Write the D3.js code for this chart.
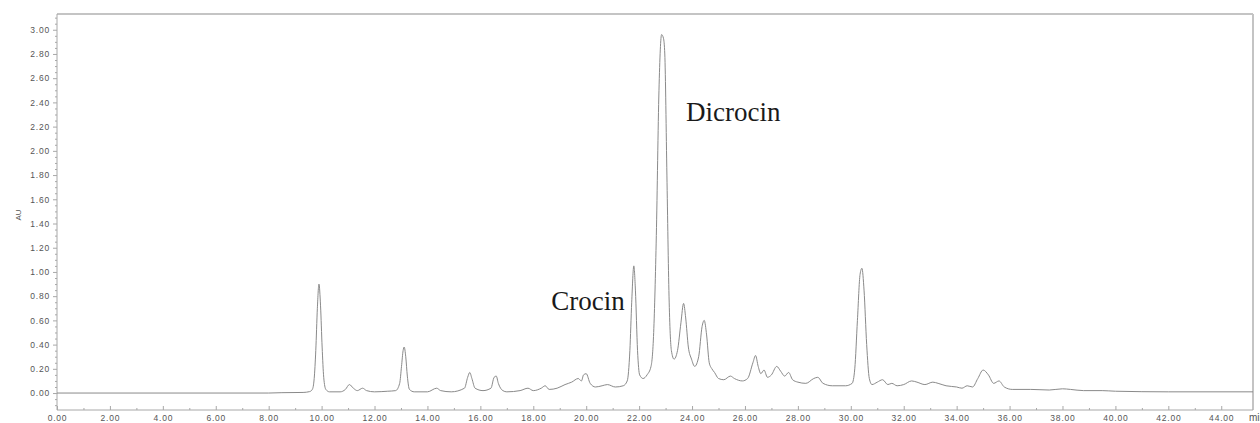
<!DOCTYPE html>
<html>
<head>
<meta charset="utf-8">
<script src="https://cdn.jsdelivr.net/npm/d3@7"></script>
<style>
  html, body { margin: 0; padding: 0; background: #fff; }
  svg { display: block; }
</style>
</head>
<body>
<svg id="chart" width="1260" height="423"></svg>
<script>
// ---- data ----
const times = [0, 8.0, 8.5, 9.3, 9.55, 9.65, 9.72, 9.78, 9.84, 9.9, 9.96, 10.02, 10.08, 10.16, 10.3,
  10.7, 10.9, 11.05, 11.2, 11.35, 11.55, 11.7, 12.0, 12.5, 12.8, 12.95, 13.02, 13.08, 13.12, 13.18,
  13.24, 13.32, 13.5, 14.0, 14.35, 14.5, 14.9, 15.4, 15.52, 15.6, 15.68, 15.8, 16.1, 16.4, 16.52,
  16.6, 16.68, 16.85, 17.0, 17.5, 17.8, 18.0, 18.3, 18.45, 18.6, 18.9, 19.2, 19.45, 19.7, 19.82,
  19.9, 20.0, 20.15, 20.35, 20.6, 20.8, 21.1, 21.4, 21.55, 21.65, 21.72, 21.8, 21.86, 21.94, 22.02,
  22.15, 22.3, 22.45, 22.55, 22.65, 22.75, 22.85, 22.92, 22.97, 23.05, 23.13, 23.22, 23.32, 23.45,
  23.58, 23.68, 23.76, 23.86, 23.98, 24.1, 24.25, 24.38, 24.46, 24.55, 24.65, 24.75, 24.85, 25.0,
  25.2, 25.45, 25.6, 25.9, 26.1, 26.3, 26.4, 26.5, 26.6, 26.72, 26.85, 27.0, 27.2, 27.35, 27.5,
  27.65, 27.8, 28.0, 28.3, 28.6, 28.75, 28.95, 29.3, 29.8, 30.05, 30.15, 30.25, 30.35, 30.42, 30.5,
  30.6, 30.7, 30.8, 31.0, 31.2, 31.4, 31.55, 31.75, 32.0, 32.3, 32.5, 32.8, 33.1, 33.3, 33.6, 34.0,
  34.2, 34.4, 34.6, 34.8, 35.0, 35.2, 35.4, 35.6, 35.8, 36.1, 36.8, 37.5, 38.0, 38.3, 38.8, 39.5,
  40.0, 42.0, 45.2];
const absorbance = [0, 0.0, 0.003, 0.005, 0.012, 0.03, 0.12, 0.35, 0.70, 0.90, 0.72, 0.38, 0.13, 0.03, 0.01,
  0.01, 0.03, 0.07, 0.04, 0.02, 0.04, 0.02, 0.01, 0.015, 0.02, 0.08, 0.22, 0.35, 0.38, 0.30,
  0.14, 0.03, 0.01, 0.01, 0.04, 0.02, 0.01, 0.04, 0.13, 0.17, 0.12, 0.04, 0.02, 0.04, 0.13,
  0.14, 0.08, 0.02, 0.01, 0.02, 0.04, 0.02, 0.04, 0.06, 0.03, 0.04, 0.07, 0.09, 0.12, 0.10,
  0.15, 0.16, 0.08, 0.05, 0.06, 0.07, 0.05, 0.06, 0.10, 0.35, 0.75, 1.05, 0.85, 0.35, 0.15,
  0.12, 0.15, 0.22, 0.50, 1.30, 2.50, 2.96, 2.93, 2.80, 1.80, 0.80, 0.35, 0.28, 0.35,
  0.58, 0.74, 0.62, 0.38, 0.28, 0.22, 0.30, 0.55, 0.60, 0.48, 0.25, 0.20, 0.17, 0.12,
  0.11, 0.14, 0.12, 0.10, 0.12, 0.25, 0.31, 0.22, 0.16, 0.19, 0.13, 0.15, 0.22, 0.18, 0.14,
  0.17, 0.11, 0.09, 0.08, 0.12, 0.13, 0.08, 0.06, 0.06, 0.08, 0.20, 0.60, 0.98, 1.03, 0.85,
  0.40, 0.12, 0.07, 0.09, 0.11, 0.07, 0.08, 0.06, 0.07, 0.10, 0.09, 0.07, 0.09, 0.08, 0.06, 0.05,
  0.04, 0.06, 0.05, 0.12, 0.19, 0.15, 0.08, 0.10, 0.05, 0.03, 0.03, 0.025, 0.035, 0.03, 0.02, 0.02,
  0.015, 0.01, 0.01];
const yTickValues = [0, 0.2, 0.4, 0.6, 0.8, 1.0, 1.2, 1.4, 1.6, 1.8, 2.0, 2.2, 2.4, 2.6, 2.8, 3.0];
const xTickValues = [0, 2, 4, 6, 8, 10, 12, 14, 16, 18, 20, 22, 24, 26, 28, 30, 32, 34, 36, 38, 40, 42, 44];
const peakLabels = ["Crocin", "Dicrocin"];
const peakLabelTimes = [21.8, 22.9];
const peakLabelValues = [1.05, 2.96];
const yAxisTitle = "AU";
const xAxisTitle = "min";

// ---- layout ----
const svg = d3.select("#chart");
const mLeft = 57, mRight = 1253, mTop = 14, mBottom = 410;

const x = d3.scaleLinear().domain([0, 45.2]).range([mLeft, mRight]);
const y = d3.scaleLinear().domain([-0.14, 3.13]).range([mBottom, mTop]);

const tickFont = "'Liberation Sans', Arial, sans-serif";
const tickColor = "#555";
const axisColor = "#a8a8a8";

// frame (top and right borders)
svg.append("line").attr("x1", mLeft).attr("x2", mRight).attr("y1", mTop).attr("y2", mTop)
  .attr("stroke", "#c4c4c4").attr("stroke-width", 2);
svg.append("line").attr("x1", mRight).attr("x2", mRight).attr("y1", mTop).attr("y2", mBottom)
  .attr("stroke", "#c4c4c4").attr("stroke-width", 2);

// y axis minor ticks
const yMinor = d3.range(-0.10, 3.1001, 0.05).filter(v => !yTickValues.some(t => Math.abs(t - v) < 1e-6));
svg.append("g").attr("transform", `translate(${mLeft},0)`)
  .call(d3.axisLeft(y).tickValues(yMinor).tickSize(2).tickFormat(""))
  .call(g => g.select(".domain").remove())
  .call(g => g.selectAll("line").attr("stroke", axisColor));

// y axis major
svg.append("g").attr("transform", `translate(${mLeft},0)`)
  .call(d3.axisLeft(y).tickValues(yTickValues).tickSize(4).tickPadding(3).tickFormat(d3.format(".2f")))
  .call(g => g.select(".domain").attr("stroke", axisColor).attr("d", `M0,${mTop}V${mBottom}`))
  .call(g => g.selectAll("line").attr("stroke", axisColor))
  .call(g => g.selectAll("text").attr("fill", tickColor).attr("font-family", tickFont)
      .attr("font-size", "8.5px").attr("letter-spacing", "0.8px"));

// x axis minor ticks
const xMinor = d3.range(1, 45, 1).filter(v => v % 2 !== 0);
svg.append("g").attr("transform", `translate(0,${mBottom})`)
  .call(d3.axisBottom(x).tickValues(xMinor).tickSize(-2).tickFormat(""))
  .call(g => g.select(".domain").remove())
  .call(g => g.selectAll("line").attr("stroke", axisColor));

// x axis major
svg.append("g").attr("transform", `translate(0,${mBottom})`)
  .call(d3.axisBottom(x).tickValues(xTickValues).tickSize(-4).tickPadding(4.5).tickFormat(d3.format(".2f")))
  .call(g => g.select(".domain").attr("stroke", axisColor).attr("d", `M${mLeft},0H${mRight}`))
  .call(g => g.selectAll("line").attr("stroke", axisColor))
  .call(g => g.selectAll("text").attr("fill", tickColor).attr("font-family", tickFont)
      .attr("font-size", "8.5px").attr("letter-spacing", "0.8px"));

// axis titles
svg.append("text").attr("x", 1249).attr("y", 421)
  .attr("font-family", tickFont).attr("font-size", "10px").attr("fill", tickColor)
  .text(xAxisTitle);
svg.append("text").attr("transform", `translate(21,${y(1.47)}) rotate(-90)`)
  .attr("text-anchor", "middle").attr("font-family", tickFont).attr("font-size", "8px")
  .attr("fill", tickColor).text(yAxisTitle);

// chromatogram trace
const pts = times.map((t, i) => [t, absorbance[i]]);
const line = d3.line().x(d => x(d[0])).y(d => y(d[1])).curve(d3.curveMonotoneX);
svg.append("clipPath").attr("id", "plotclip").append("rect")
  .attr("x", mLeft).attr("y", mTop).attr("width", mRight - mLeft).attr("height", mBottom - mTop);
svg.append("path").datum(pts).attr("d", line).attr("clip-path", "url(#plotclip)")
  .attr("fill", "none").attr("stroke", "#8a8a8a").attr("stroke-width", 1);

// peak annotations
const labelOffsets = [[-9, 44], [23, 86]];
peakLabels.forEach((lab, i) => {
  svg.append("text")
    .attr("x", x(peakLabelTimes[i]) + labelOffsets[i][0])
    .attr("y", y(peakLabelValues[i]) + labelOffsets[i][1])
    .attr("text-anchor", i === 0 ? "end" : "start")
    .attr("font-family", "'Liberation Serif', 'Times New Roman', serif")
    .attr("font-size", "27px").attr("fill", "#1a1a1a")
    .text(lab);
});
</script>
</body>
</html>
